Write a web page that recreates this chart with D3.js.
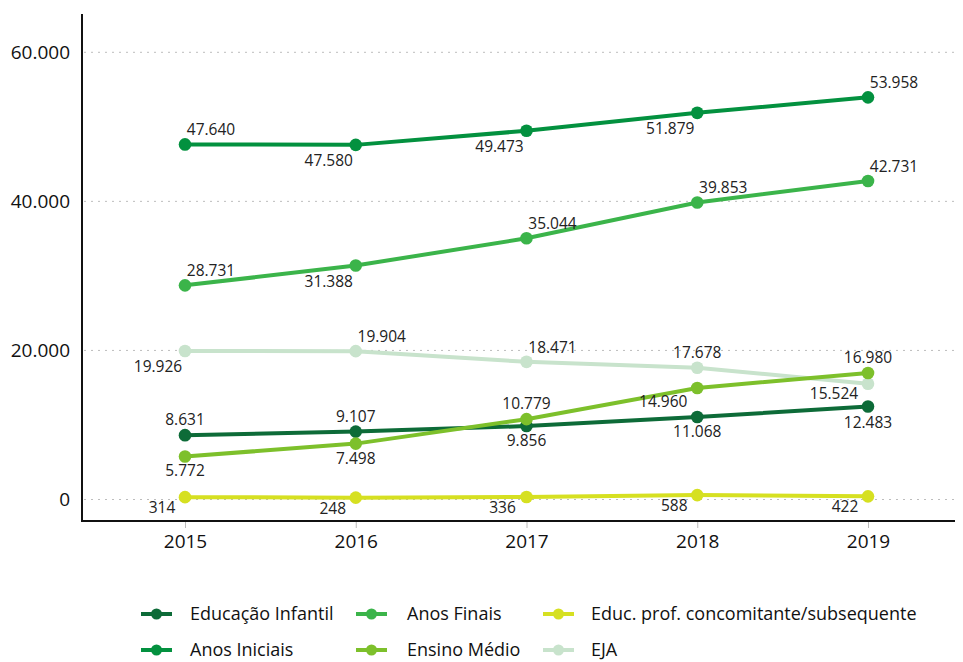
<!DOCTYPE html>
<html>
<head>
<meta charset="utf-8">
<script src="https://cdnjs.cloudflare.com/ajax/libs/d3/7.8.5/d3.min.js"></script>
<style>
  body { margin: 0; background: #fff; }
  svg { font-family: "Open Sans", "Liberation Sans", sans-serif; }
  .grid line { stroke: #bdbdbd; stroke-dasharray: 2 5; }
</style>
</head>
<body>
<div class="chart"></div>
<script>
// data
var years = ["2015", "2016", "2017", "2018", "2019"];
var yTicks = [0, 20000, 40000, 60000];

var educacaoInfantil = [8631, 9107, 9856, 11068, 12483];
var anosIniciais = [47640, 47580, 49473, 51879, 53958];
var anosFinais = [28731, 31388, 35044, 39853, 42731];
var ensinoMedio = [5772, 7498, 10779, 14960, 16980];
var educProf = [314, 248, 336, 588, 422];
var eja = [19926, 19904, 18471, 17678, 15524];

// label placement per point, [dx, dy] from the marker (not data)
var A = [0, -10], B = [0, 20], AR = [26, -9], BL = [-27, 21];
var series = [
  { name: "EJA", values: eja, color: "#c8e3cc", lbl: [BL, AR, AR, A, [-34, 15]] },
  { name: "Educação Infantil", values: educacaoInfantil, color: "#0d6b38", lbl: [A, A, B, B, [0, 22]] },
  { name: "Ensino Médio", values: ensinoMedio, color: "#7dc02b", lbl: [B, B, A, [-34, 19], A] },
  { name: "Anos Finais", values: anosFinais, color: "#3bb44a", lbl: [AR, BL, AR, AR, AR] },
  { name: "Anos Iniciais", values: anosIniciais, color: "#03913f", lbl: [AR, BL, BL, BL, AR] },
  { name: "Educ. prof. concomitante/subsequente", values: educProf, color: "#d6e021", lbl: [[-23, 16], [-23, 16], [-24, 16], [-23, 16], [-23, 16]] }
];

// legend order (column by column)
var legendItems = [
  { name: "Educação Infantil", col: 0, row: 0 },
  { name: "Anos Iniciais", col: 0, row: 1 },
  { name: "Anos Finais", col: 1, row: 0 },
  { name: "Ensino Médio", col: 1, row: 1 },
  { name: "Educ. prof. concomitante/subsequente", col: 2, row: 0 },
  { name: "EJA", col: 2, row: 1 }
];

var W = 963, H = 662;
var plotLeft = 82, plotTop = 14, plotRight = 955, plotBottom = 521;

var fmt = d3.formatLocale({ decimal: ",", thousands: ".", grouping: [3], currency: ["", ""] }).format(",d");

var x = d3.scalePoint()
    .domain(years)
    .range([185, 868]);

var y = d3.scaleLinear()
    .domain([0, 60000])
    .range([499.5, 52.3]);

var svg = d3.select(".chart").append("svg")
    .attr("width", W)
    .attr("height", H);

// gridlines
svg.append("g")
    .attr("class", "grid")
    .selectAll("line")
    .data(yTicks)
  .enter().append("line")
    .attr("x1", plotLeft + 2)
    .attr("x2", plotRight)
    .attr("y1", d => y(d))
    .attr("y2", d => y(d));

// y axis
var yAxis = svg.append("g")
    .attr("transform", "translate(" + plotLeft + ",0)")
    .call(d3.axisLeft(y).tickValues(yTicks).tickFormat(fmt).tickSize(0).tickPadding(12));
yAxis.select(".domain").remove();
yAxis.selectAll("text")
    .style("font-size", "19px")
    .style("font-family", "Open Sans, sans-serif")
    .attr("fill", "#111");
svg.append("line")
    .attr("x1", plotLeft).attr("x2", plotLeft)
    .attr("y1", plotTop).attr("y2", plotBottom + 1)
    .attr("stroke", "#111").attr("stroke-width", 2);

// x axis
var xAxis = svg.append("g")
    .attr("transform", "translate(0," + plotBottom + ")")
    .call(d3.axisBottom(x).tickSize(7).tickPadding(7));
xAxis.select(".domain").remove();
xAxis.selectAll(".tick line").attr("stroke", "#bbb");
xAxis.selectAll("text")
    .style("font-size", "19px")
    .style("font-family", "Open Sans, sans-serif")
    .attr("fill", "#111");
svg.append("line")
    .attr("x1", plotLeft - 1).attr("x2", plotRight)
    .attr("y1", plotBottom).attr("y2", plotBottom)
    .attr("stroke", "#111").attr("stroke-width", 2);

var line = d3.line()
    .x((d, i) => x(years[i]))
    .y(d => y(d));

var g = svg.selectAll(".series")
    .data(series)
  .enter().append("g")
    .attr("class", "series");

g.append("path")
    .attr("d", d => line(d.values))
    .attr("fill", "none")
    .attr("stroke", d => d.color)
    .attr("stroke-width", 4);

g.selectAll("circle")
    .data(d => d.values.map((v, i) => ({ v: v, i: i, color: d.color })))
  .enter().append("circle")
    .attr("cx", d => x(years[d.i]))
    .attr("cy", d => y(d.v))
    .attr("r", 6.3)
    .attr("fill", d => d.color);

// data labels
g.selectAll(".lbl")
    .data(d => d.values.map((v, i) => ({ v: v, i: i, off: d.lbl[i] })))
  .enter().append("text")
    .attr("class", "lbl")
    .attr("x", d => x(years[d.i]) + d.off[0])
    .attr("y", d => y(d.v) + d.off[1])
    .attr("text-anchor", "middle")
    .style("font-size", "15.5px")
    .attr("fill", "#222")
    .text(d => fmt(d.v));

// legend
var colorOf = {};
series.forEach(s => colorOf[s.name] = s.color);
var colX = [141, 356, 543], rowY = [614, 650];

var lg = svg.selectAll(".legend")
    .data(legendItems)
  .enter().append("g")
    .attr("class", "legend")
    .attr("transform", d => "translate(" + colX[d.col] + "," + rowY[d.row] + ")");

lg.append("line")
    .attr("x1", 0).attr("x2", 31)
    .attr("stroke", d => colorOf[d.name])
    .attr("stroke-width", 4);
lg.append("circle")
    .attr("cx", 15.5)
    .attr("r", 5.5)
    .attr("fill", d => colorOf[d.name]);
lg.append("text")
    .attr("x", d => d.col === 2 ? 48 : (d.col === 1 ? 51 : 49))
    .attr("dy", "0.35em")
    .style("font-size", "18px")
    .attr("fill", "#111")
    .text(d => d.name);
</script>
</body>
</html>
